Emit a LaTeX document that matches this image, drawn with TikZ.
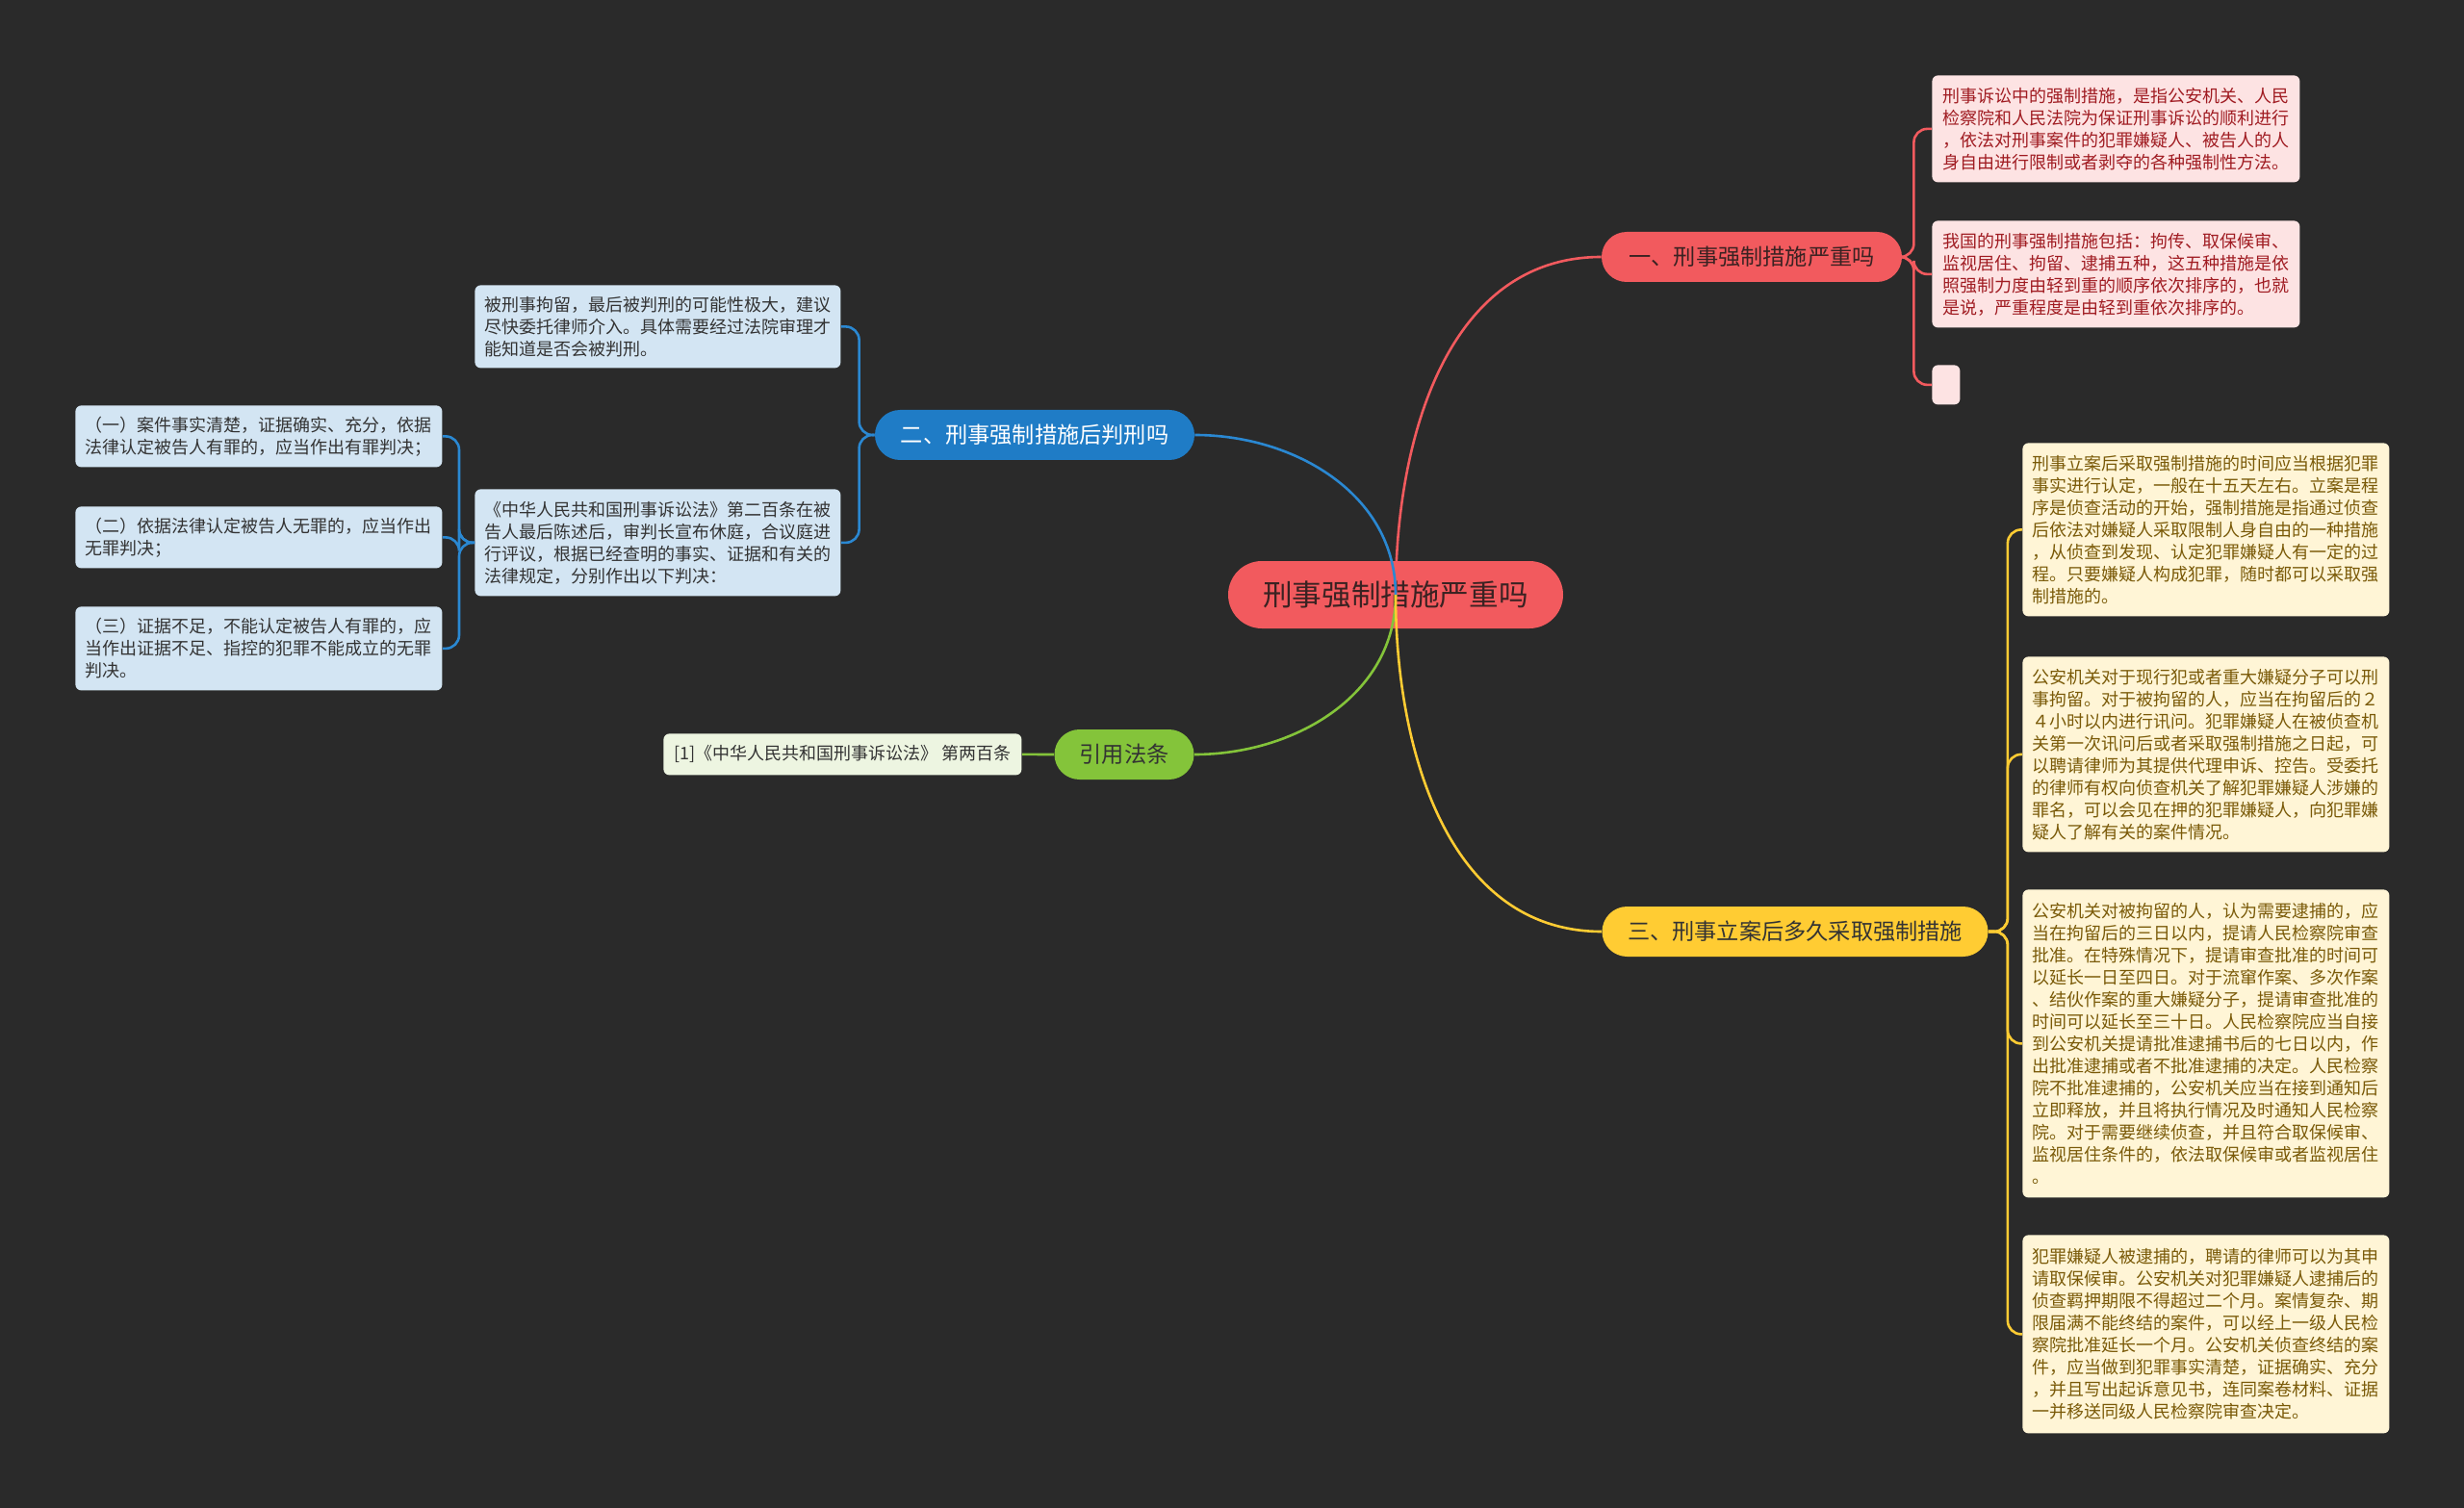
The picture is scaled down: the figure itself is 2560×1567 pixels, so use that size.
\documentclass[tikz,border=0pt]{standalone}
\usepackage{fontspec}
\setmainfont{Noto Sans CJK SC}
\definecolor{bg}{HTML}{2A2A2A}
\definecolor{rmain}{HTML}{F25A5E}
\definecolor{rleaf}{HTML}{FDE3E3}
\definecolor{rtext}{HTML}{A01C22}
\definecolor{bmain}{HTML}{1F7CC6}
\definecolor{bline}{HTML}{2A88D2}
\definecolor{bleaf}{HTML}{D3E5F3}
\definecolor{gmain}{HTML}{84C43A}
\definecolor{gleaf}{HTML}{EDF5E1}
\definecolor{ymain}{HTML}{FFCC33}
\definecolor{yleaf}{HTML}{FFF5D6}
\definecolor{ytext}{HTML}{7A5A08}
\definecolor{dtext}{HTML}{333333}
\definecolor{ctext}{HTML}{3A2222}
\begin{document}
\begin{tikzpicture}[x=0.5pt,y=-0.5pt,
  leaf/.style={rounded corners=3pt, inner sep=0pt, align=left, anchor=north west,
    font=\fontsize{9}{11.5}\selectfont},
  branch/.style={rounded corners=13pt, inner sep=0pt, minimum height=26pt,
    font=\fontsize{11.6}{14}\selectfont},
  conn/.style={line width=1.3pt},
  bracket/.style={line width=1.3pt, rounded corners=7pt}
]
\fill[bg] (0,0) rectangle (2560,1567);
\useasboundingbox (0,0) rectangle (2560,1567);

% central
\node[fill=rmain, text=ctext, rounded corners=17.5pt, inner sep=0pt,
  minimum width=174pt, minimum height=35pt, font=\fontsize{15.3}{18}\selectfont]
  (c) at (1450,618) {刑事强制措施严重吗};

% branches
\node[branch, fill=rmain, text=ctext, minimum width=156pt] (b1) at (1820,267) {一、刑事强制措施严重吗};
\node[branch, fill=bmain, text=white, minimum width=166pt] (b2) at (1075,452) {二、刑事强制措施后判刑吗};
\node[branch, fill=gmain, text=dtext, minimum width=72.5pt] (b4) at (1168,784) {引用法条};
\node[branch, fill=ymain, text=dtext, minimum width=200.5pt] (b3) at (1865,968) {三、刑事立案后多久采取强制措施};

% red leaves
\node[leaf, fill=rleaf, text=rtext, minimum width=191pt, minimum height=55.5pt] (r1) at (2007,78)
{刑事诉讼中的强制措施，是指公安机关、人民\\
检察院和人民法院为保证刑事诉讼的顺利进行\\
，依法对刑事案件的犯罪嫌疑人、被告人的人\\
身自由进行限制或者剥夺的各种强制性方法。};
\node[leaf, fill=rleaf, text=rtext, minimum width=191pt, minimum height=55.5pt] (r2) at (2007,229)
{我国的刑事强制措施包括：拘传、取保候审、\\
监视居住、拘留、逮捕五种，这五种措施是依\\
照强制力度由轻到重的顺序依次排序的，也就\\
是说，严重程度是由轻到重依次排序的。};
\node[leaf, fill=rleaf, minimum width=14.5pt, minimum height=20.5pt] (r3) at (2007,379) {};

% yellow leaves
\node[leaf, fill=yleaf, text=ytext, minimum width=190.5pt, minimum height=90pt] (y1) at (2101,460)
{刑事立案后采取强制措施的时间应当根据犯罪\\
事实进行认定，一般在十五天左右。立案是程\\
序是侦查活动的开始，强制措施是指通过侦查\\
后依法对嫌疑人采取限制人身自由的一种措施\\
，从侦查到发现、认定犯罪嫌疑人有一定的过\\
程。只要嫌疑人构成犯罪，随时都可以采取强\\
制措施的。};
\node[leaf, fill=yleaf, text=ytext, minimum width=190.5pt, minimum height=101.5pt] (y2) at (2101,682)
{公安机关对于现行犯或者重大嫌疑分子可以刑\\
事拘留。对于被拘留的人，应当在拘留后的２\\
４小时以内进行讯问。犯罪嫌疑人在被侦查机\\
关第一次讯问后或者采取强制措施之日起，可\\
以聘请律师为其提供代理申诉、控告。受委托\\
的律师有权向侦查机关了解犯罪嫌疑人涉嫌的\\
罪名，可以会见在押的犯罪嫌疑人，向犯罪嫌\\
疑人了解有关的案件情况。};
\node[leaf, fill=yleaf, text=ytext, minimum width=190.5pt, minimum height=160pt] (y3) at (2101,924)
{公安机关对被拘留的人，认为需要逮捕的，应\\
当在拘留后的三日以内，提请人民检察院审查\\
批准。在特殊情况下，提请审查批准的时间可\\
以延长一日至四日。对于流窜作案、多次作案\\
、结伙作案的重大嫌疑分子，提请审查批准的\\
时间可以延长至三十日。人民检察院应当自接\\
到公安机关提请批准逮捕书后的七日以内，作\\
出批准逮捕或者不批准逮捕的决定。人民检察\\
院不批准逮捕的，公安机关应当在接到通知后\\
立即释放，并且将执行情况及时通知人民检察\\
院。对于需要继续侦查，并且符合取保候审、\\
监视居住条件的，依法取保候审或者监视居住\\
。};
\node[leaf, fill=yleaf, text=ytext, minimum width=190.5pt, minimum height=103pt] (y4) at (2101,1283)
{犯罪嫌疑人被逮捕的，聘请的律师可以为其申\\
请取保候审。公安机关对犯罪嫌疑人逮捕后的\\
侦查羁押期限不得超过二个月。案情复杂、期\\
限届满不能终结的案件，可以经上一级人民检\\
察院批准延长一个月。公安机关侦查终结的案\\
件，应当做到犯罪事实清楚，证据确实、充分\\
，并且写出起诉意见书，连同案卷材料、证据\\
一并移送同级人民检察院审查决定。};

% blue leaves
\node[leaf, fill=bleaf, text=dtext, minimum width=190pt, minimum height=43pt] (bl1) at (493,296)
{被刑事拘留，最后被判刑的可能性极大，建议\\
尽快委托律师介入。具体需要经过法院审理才\\
能知道是否会被判刑。};
\node[leaf, fill=bleaf, text=dtext, minimum width=190pt, minimum height=55.5pt] (bl2) at (493,508)
{《中华人民共和国刑事诉讼法》第二百条在被\\
告人最后陈述后，审判长宣布休庭，合议庭进\\
行评议，根据已经查明的事实、证据和有关的\\
法律规定，分别作出以下判决：};
\node[leaf, fill=bleaf, text=dtext, minimum width=190.5pt, minimum height=32pt] (c1) at (78,421)
{（一）案件事实清楚，证据确实、充分，依据\\
法律认定被告人有罪的，应当作出有罪判决；};
\node[leaf, fill=bleaf, text=dtext, minimum width=190.5pt, minimum height=32pt] (c2) at (78,526)
{（二）依据法律认定被告人无罪的，应当作出\\
无罪判决；};
\node[leaf, fill=bleaf, text=dtext, minimum width=190.5pt, minimum height=43.5pt] (c3) at (78,630)
{（三）证据不足，不能认定被告人有罪的，应\\
当作出证据不足、指控的犯罪不能成立的无罪\\
判决。};

% green leaf
\node[leaf, fill=gleaf, text=dtext, minimum width=186pt, minimum height=21.5pt] (g1) at (689,762)
{[1]《中华人民共和国刑事诉讼法》 第两百条};

% main connectors
\draw[conn, draw=rmain] (c.center) to[out=90,in=180] (b1.west);
\draw[conn, draw=bline] (c.center) to[out=90,in=0] (b2.east);
\draw[conn, draw=gmain] (c.center) to[out=-90,in=0] (b4.east);
\draw[conn, draw=ymain] (c.center) to[out=-90,in=180] (b3.west);

% red brackets
\draw[bracket, draw=rmain] (b1.east) -- ++(12,0) |- (r1.west);
\draw[bracket, draw=rmain] (b1.east) -- ++(12,0) |- (r2.west);
\draw[bracket, draw=rmain] (b1.east) -- ++(12,0) |- (r3.west);

% yellow brackets
\draw[bracket, draw=ymain] (b3.east) -- ++(20,0) |- (y1.west);
\draw[bracket, draw=ymain] (b3.east) -- ++(20,0) |- (y2.west);
\draw[bracket, draw=ymain] (b3.east) -- ++(20,0) |- (y3.west);
\draw[bracket, draw=ymain] (b3.east) -- ++(20,0) |- (y4.west);

% blue brackets
\draw[bracket, draw=bline] (b2.west) -- ++(-16,0) |- (bl1.east);
\draw[bracket, draw=bline] (b2.west) -- ++(-16,0) |- (bl2.east);
\draw[bracket, draw=bline] (bl2.west) -- ++(-16,0) |- (c1.east);
\draw[bracket, draw=bline] (bl2.west) -- ++(-16,0) |- (c2.east);
\draw[bracket, draw=bline] (bl2.west) -- ++(-16,0) |- (c3.east);

% green
\draw[conn, draw=gmain] (b4.west) -- (g1.east);
\end{tikzpicture}
\end{document}
